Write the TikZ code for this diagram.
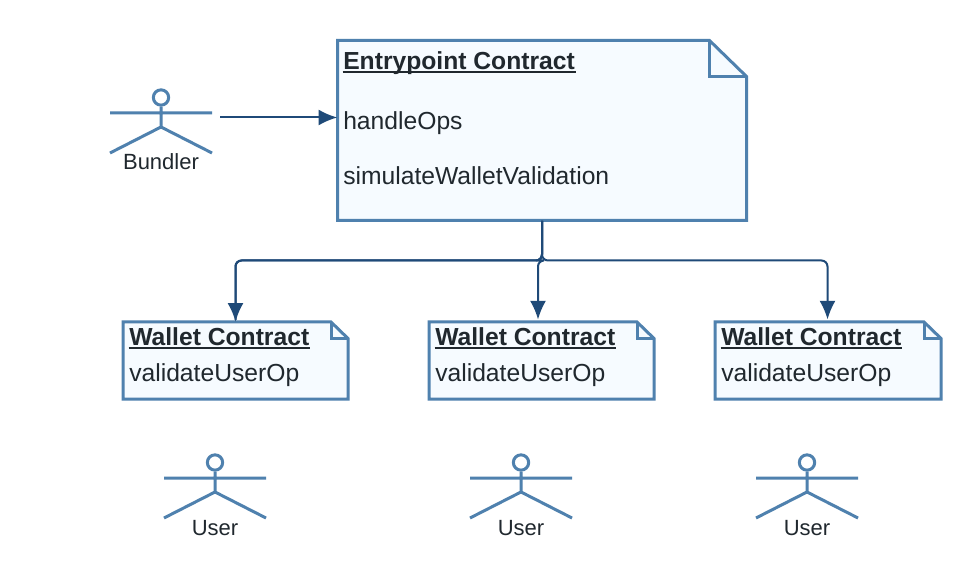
\documentclass[tikz,border=0pt]{standalone}
\usepackage{fontspec}
\setmainfont{Liberation Sans}
\usetikzlibrary{arrows.meta}
\definecolor{shapeblue}{HTML}{4F81AE}
\definecolor{linkblue}{HTML}{1F4A78}
\definecolor{notefill}{HTML}{F6FBFF}
\definecolor{inktext}{HTML}{20282E}
\newcommand{\ulbold}[1]{\setbox0=\hbox{\bfseries #1}\leavevmode\rlap{\kern-0.5pt\rule[-2.6pt]{\dimexpr\wd0+1pt\relax}{1.5pt}}\box0}
\newcommand{\actorfig}[4]{% name, centre x, top y of head centre, label
  \begin{scope}[shift={(#2,#3)}]
    \node[actorhead] (#1head) at (0,0) {};
    \coordinate (#1neck) at (0,15.5);
    \coordinate (#1hip) at (0,29.5);
    \coordinate (#1armL) at (-51,15.5);
    \coordinate (#1armR) at (51,15.5);
    \coordinate (#1legL) at (-51,55.5);
    \coordinate (#1legR) at (51,55.5);
    \draw[actorline] (#1head.south) -- (#1hip) (#1armL) -- (#1armR) (#1legL) -- (#1hip) -- (#1legR);
    \node[actorlabel] (#1label) at (0,72.5) {#4};
  \end{scope}}
\tikzset{
  x=0.75pt, y=-0.75pt,
  actorline/.style={draw=shapeblue, line width=2.25pt},
  actorhead/.style={circle, draw=shapeblue, fill=white, line width=2.25pt, inner sep=0pt, minimum size=11.5pt},
  actorlabel/.style={anchor=base, inner sep=0pt, text=inktext, font=\fontsize{16.5pt}{18pt}\selectfont},
  notebody/.style={draw=none, inner sep=0pt, rectangle},
  noteline/.style={draw=shapeblue, line width=2.25pt, fill=notefill, line join=miter},
  notetext/.style={anchor=base west, inner sep=0pt, text=inktext, font=\fontsize{18.5pt}{20pt}\selectfont},
  link/.style={draw=linkblue, line width=1.5pt, rounded corners=4.5pt},
  linkarrow/.style={link, -{Latex[length=14pt,width=12pt]}},
}
\begin{document}
\begin{tikzpicture}
\useasboundingbox (0,0) rectangle (980,580);
\fill[white] (0,0) rectangle (980,580);

% Entrypoint note
\coordinate (entryNW) at (337.5,40.5);
\coordinate (entrySE) at (746.5,220.5);
\coordinate (entryFoldA) at (709.5,40.5);
\coordinate (entryFoldB) at (746.5,76.5);
\coordinate (entryFoldC) at (709.5,76.5);
\node[notebody, minimum width=306.75pt, minimum height=135pt] (entry) at (542,130.5) {};
\draw[noteline] (entryNW) -- (entryFoldA) -- (entryFoldB) -- (entrySE) -- (entryNW |- entrySE) -- cycle;
\draw[noteline, fill=none] (entryFoldA) -- (entryFoldC) -- (entryFoldB);
\node[notetext] (entrytitle) at (343,70) {\ulbold{Entrypoint Contract}};
\node[notetext] (entryops) at (343,130) {handleOps};
\node[notetext] (entrysim) at (343,185) {simulateWalletValidation};

% Wallet notes
\foreach \n/\l/\r in {walletA/123/348, walletB/429/654, walletC/715/941}{
  \pgfmathsetmacro{\cx}{(\l+\r)/2}
  \pgfmathsetmacro{\bw}{(\r-\l)*0.75}
  \node[notebody, minimum width=\bw pt, minimum height=57.75pt] (\n) at (\cx,360.5) {};
  \draw[noteline] (\l,322) -- (\r-17,322) -- (\r,338.5) -- (\r,399) -- (\l,399) -- cycle;
  \draw[noteline, fill=none] (\r-17,322) -- (\r-17,338.5) -- (\r,338.5);
  \node[notetext] (\n title) at (\l+6,346) {\ulbold{Wallet Contract}};
  \node[notetext] (\n op) at (\l+6,381) {validateUserOp};
}

% Actors
\actorfig{bundler}{161}{97.5}{Bundler}
\actorfig{userA}{215}{462.5}{User}
\actorfig{userB}{521}{462.5}{User}
\actorfig{userC}{807}{462.5}{User}

% Connectors
\coordinate (bundlerOut) at (220,117.5);
\draw[linkarrow] (bundlerOut) -- (bundlerOut -| entry.west);
\coordinate (junction) at (542,260.5);
\draw[link] (entry.south) -- (junction) -- (235.5,260.5) -- ([yshift=0pt]235.5,320) coordinate (tipA);
\draw[linkarrow] (entry.south) -- (junction) -- (538,260.5) -- (538,319.5);
\draw[linkarrow] (entry.south) -- (junction) -- (235.5,260.5) -- (walletA.north);
\draw[linkarrow] (entry.south) -- (junction) -- (827.5,260.5) -- (827.5,319.5);
\end{tikzpicture}
\end{document}
